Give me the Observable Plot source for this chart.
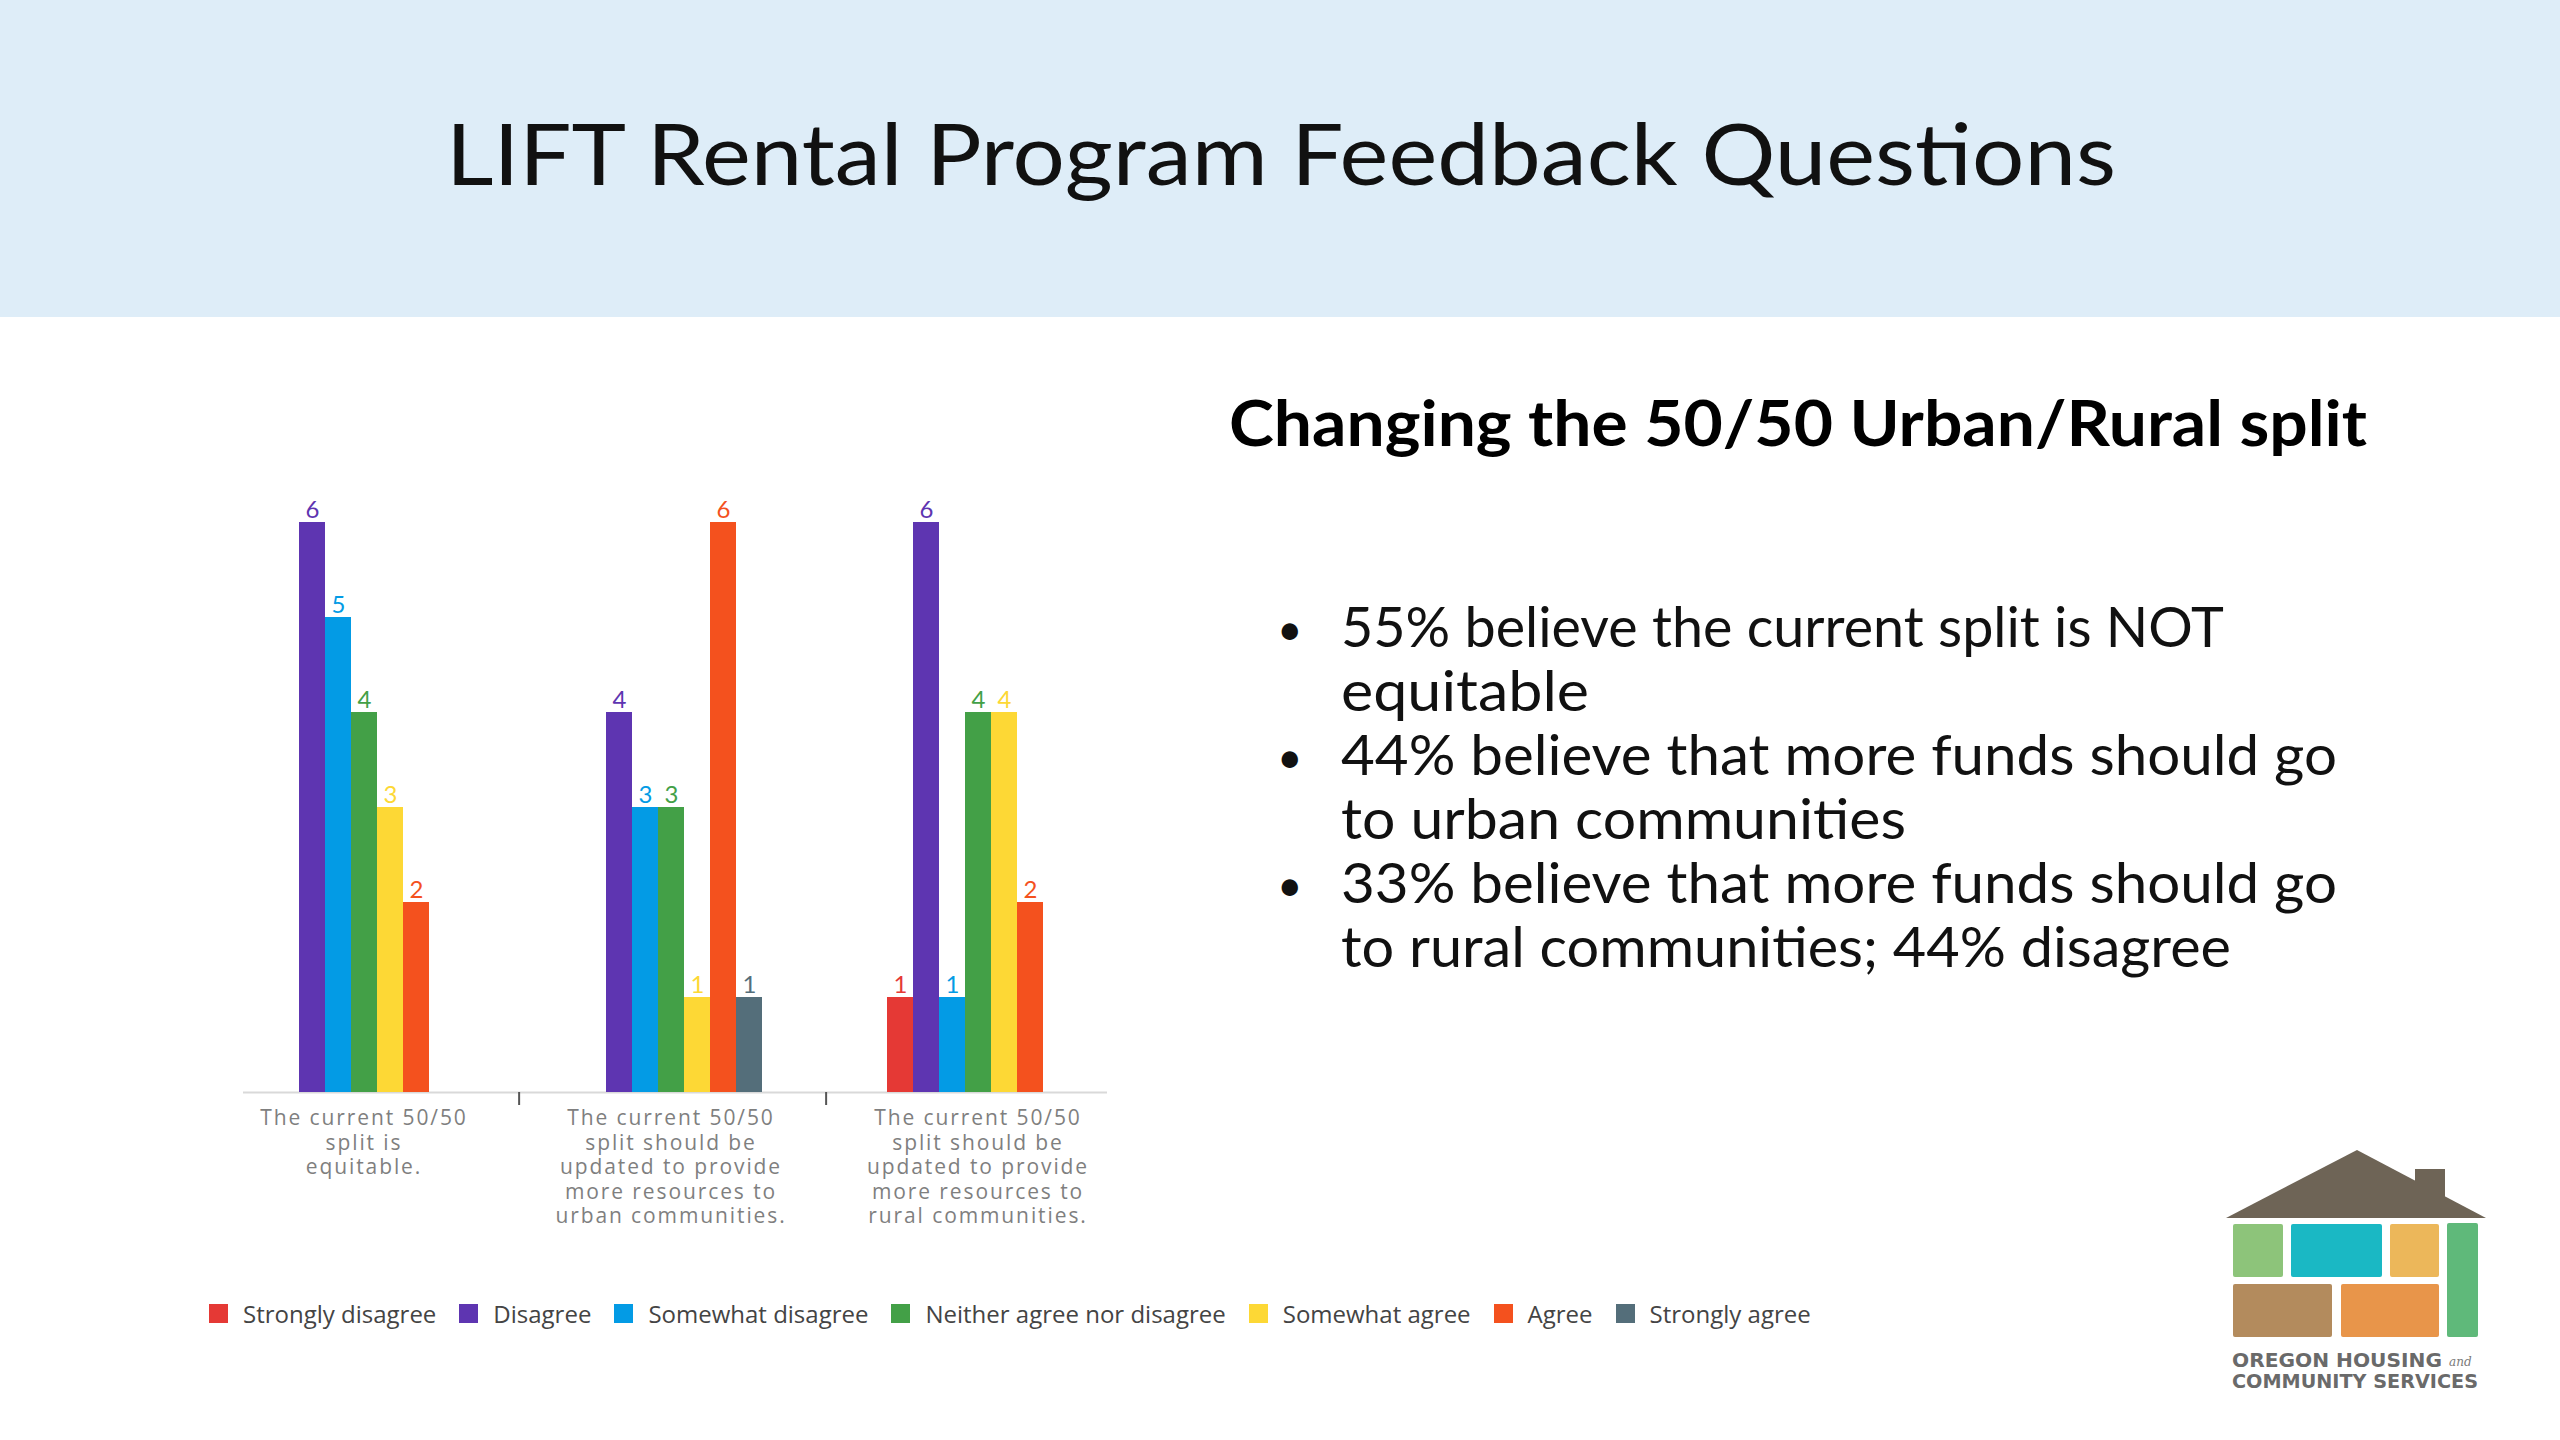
<!DOCTYPE html>
<html>
<head>
<meta charset="utf-8">
<script src="https://cdn.jsdelivr.net/npm/d3@7"></script>
<script src="https://cdn.jsdelivr.net/npm/@observablehq/plot@0.6"></script>
<style>
  html, body { margin: 0; padding: 0; background: #ffffff; }
  #page { position: relative; width: 2560px; height: 1440px; overflow: hidden; background: #ffffff; }
  #bg { position: absolute; left: 0; top: 0; }
  #chart { position: absolute; left: 0; top: 440px; }
  #chart g[aria-label="fx-axis tick label"] { letter-spacing: 1.9px; }
  #legend { position: absolute; left: 209px; top: 1297px; display: flex; align-items: center;
            font-family: "Open Sans", sans-serif; font-size: 24px; color: #444; white-space: nowrap; }
  #legend .item { display: flex; align-items: center; margin-right: 23px; }
  #legend .sw { width: 19px; height: 19px; margin-right: 15px; }
</style>
</head>
<body>
<div id="page">
  <svg id="bg" width="2560" height="1440" viewBox="0 0 2560 1440">
    <rect x="0" y="0" width="2560" height="317" fill="#deedf8"></rect>
    <text x="446" y="185" font-family="Lato, sans-serif" font-size="85" fill="#111" textLength="1670" lengthAdjust="spacingAndGlyphs">LIFT Rental Program Feedback Questions</text>
    <text x="1229" y="446" font-family="Lato, sans-serif" font-weight="bold" font-size="64" fill="#000" textLength="1138" lengthAdjust="spacingAndGlyphs">Changing the 50/50 Urban/Rural split</text>
    <g font-family="Lato, sans-serif" font-size="57" fill="#111">
      <text x="1277" y="645" font-size="44">•</text>
      <text x="1341" y="647" textLength="883" lengthAdjust="spacingAndGlyphs">55% believe the current split is NOT</text>
      <text x="1341" y="711" textLength="248" lengthAdjust="spacingAndGlyphs">equitable</text>
      <text x="1277" y="773" font-size="44">•</text>
      <text x="1341" y="775" textLength="996" lengthAdjust="spacingAndGlyphs">44% believe that more funds should go</text>
      <text x="1341" y="839" textLength="565" lengthAdjust="spacingAndGlyphs">to urban communities</text>
      <text x="1277" y="901" font-size="44">•</text>
      <text x="1341" y="903" textLength="996" lengthAdjust="spacingAndGlyphs">33% believe that more funds should go</text>
      <text x="1341" y="967" textLength="890" lengthAdjust="spacingAndGlyphs">to rural communities; 44% disagree</text>
    </g>
    <g id="logo">
      <polygon points="2226,1218 2357,1150 2486,1218" fill="#6e6456"></polygon>
      <rect x="2415" y="1169" width="30" height="30" fill="#6e6456"></rect>
      <rect x="2233" y="1224" width="50" height="53" rx="2" fill="#8dc47a"></rect>
      <rect x="2291" y="1224" width="91" height="53" rx="2" fill="#1ab8c4"></rect>
      <rect x="2390" y="1224" width="49" height="53" rx="2" fill="#ecb75a"></rect>
      <rect x="2447" y="1223" width="31" height="114" rx="2" fill="#5fb97a"></rect>
      <rect x="2233" y="1284" width="99" height="53" rx="2" fill="#b38b5d"></rect>
      <rect x="2341" y="1284" width="98" height="53" rx="2" fill="#e8954a"></rect>
      <text x="2232" y="1367" font-family="DejaVu Sans, sans-serif" font-weight="bold" font-size="19" fill="#6a6a6a" textLength="210" lengthAdjust="spacingAndGlyphs">OREGON HOUSING</text>
      <text x="2449" y="1366" font-family="DejaVu Serif, serif" font-style="italic" font-size="12" fill="#7a7a7a">and</text>
      <text x="2232" y="1388" font-family="DejaVu Sans, sans-serif" font-weight="bold" font-size="19" fill="#6a6a6a" textLength="246" lengthAdjust="spacingAndGlyphs">COMMUNITY SERVICES</text>
    </g>
  </svg>
  <div id="chart"></div>
  <div id="legend"></div>
</div>
<script>
// ---- Data ----
const questions = [
  "The current 50/50 split is equitable.",
  "The current 50/50 split should be updated to provide more resources to urban communities.",
  "The current 50/50 split should be updated to provide more resources to rural communities."
];
const questionLabels = [
  "The current 50/50\nsplit is\nequitable.",
  "The current 50/50\nsplit should be\nupdated to provide\nmore resources to\nurban communities.",
  "The current 50/50\nsplit should be\nupdated to provide\nmore resources to\nrural communities."
];
const responses = [
  "Strongly disagree",
  "Disagree",
  "Somewhat disagree",
  "Neither agree nor disagree",
  "Somewhat agree",
  "Agree",
  "Strongly agree"
];
const responseColors = ["#e53935", "#5e35b1", "#039be5", "#43a047", "#fdd835", "#f4511e", "#546e7a"];
const countsEquitable = [0, 6, 5, 4, 3, 2, 0];
const countsUrban     = [0, 4, 3, 3, 1, 6, 1];
const countsRural     = [1, 6, 1, 4, 4, 2, 0];

// ---- Table for Plot ----
const allCounts = [countsEquitable, countsUrban, countsRural];
const rows = [];
questions.forEach((q, i) => {
  responses.forEach((r, j) => {
    rows.push({question: q, response: r, count: allCounts[i][j]});
  });
});
const present = rows.filter(d => d.count > 0);
const labelOf = new Map(questions.map((q, i) => [q, questionLabels[i]]));

// layout constants
const W = 1200, H = 820;
const mL = 210, mR = 69, mT = 82, mB = 168;
const pOuter = 2.32;
const facetBand = (W - mL - mR) / questions.length;
const step = facetBand / (responses.length + 2 * pOuter);
const edgeOffset = pOuter * step + step / 2;

const chart = Plot.plot({
  width: W,
  height: H,
  marginLeft: mL,
  marginRight: mR,
  marginTop: mT,
  marginBottom: mB,
  style: {background: "transparent", fontFamily: "'Open Sans', sans-serif", overflow: "visible"},
  fx: {domain: questions, padding: 0, label: null},
  x: {domain: responses, paddingInner: 0, paddingOuter: pOuter, axis: null},
  y: {domain: [0, 6], axis: null},
  color: {domain: responses, range: responseColors},
  marks: [
    Plot.ruleY([{question: questions[0]}], {fx: "question", y: () => 0, stroke: "#d9d9d9", strokeWidth: 2, insetLeft: 33}),
    Plot.ruleY([{question: questions[1]}], {fx: "question", y: () => 0, stroke: "#d9d9d9", strokeWidth: 2}),
    Plot.ruleY([{question: questions[2]}], {fx: "question", y: () => 0, stroke: "#d9d9d9", strokeWidth: 2, insetRight: 24}),
    Plot.ruleX([{question: questions[1]}, {question: questions[2]}], {
      fx: "question", x: () => responses[0], y1: () => 0, y2: () => 0,
      dx: -edgeOffset, insetBottom: -13, stroke: "#555", strokeWidth: 2
    }),
    Plot.barY(present, {fx: "question", x: "response", y: "count", fill: "response"}),
    Plot.text(present, {
      fx: "question", x: "response", y: "count", text: d => String(d.count),
      fill: "response", fontSize: 24, fontFamily: "Lato, sans-serif", lineAnchor: "bottom", dy: -5
    }),
    Plot.axisFx({
      anchor: "bottom", tickSize: 0, tickPadding: 15, label: null,
      tickFormat: q => labelOf.get(q), fontSize: 21, lineHeight: 1.17, fill: "#7f7f7f"
    })
  ]
});
document.getElementById("chart").appendChild(chart);

// ---- Legend ----
const legend = document.getElementById("legend");
responses.forEach((r, i) => {
  const item = document.createElement("div");
  item.className = "item";
  const sw = document.createElement("span");
  sw.className = "sw";
  sw.style.background = responseColors[i];
  const tx = document.createElement("span");
  tx.textContent = r;
  item.appendChild(sw);
  item.appendChild(tx);
  legend.appendChild(item);
});
</script>
</body>
</html>
